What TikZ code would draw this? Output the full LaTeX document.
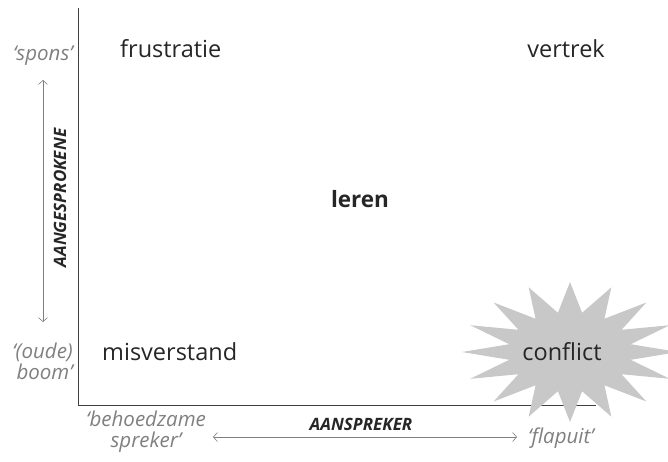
\documentclass[tikz,border=0pt]{standalone}
\usepackage{fontspec}
\setmainfont{Open Sans}
\usetikzlibrary{arrows.meta}
\definecolor{labgray}{HTML}{7F7F7F}
\definecolor{stargray}{HTML}{C8C8C8}
\definecolor{axisgray}{HTML}{404040}
\tikzset{
  quad/.style={inner sep=0pt, font=\fontsize{23.5}{26}\selectfont, text=black!85},
  pole/.style={inner sep=0pt, font=\fontsize{20.5}{21}\selectfont\itshape, text=labgray, align=center},
  axlab/.style={inner sep=0pt, font=\fontsize{17}{20}\selectfont\bfseries\itshape, text=black!85},
  dimarrow/.style={draw=labgray, line width=0.6pt, {Straight Barb[length=4pt,width=9pt]}-{Straight Barb[length=4pt,width=9pt]}},
  axis/.style={draw=axisgray, line width=0.8pt}
}
\begin{document}
\begin{tikzpicture}[x=1pt,y=-1pt]
\useasboundingbox (0,0) rectangle (668,461);
% axes
\coordinate (top) at (78,8);
\coordinate (orig) at (78,405);
\coordinate (xend) at (596,405);
\draw[axis] (top) -- (orig) -- (xend);
% starburst
\fill[stargray] plot[samples=33, domain=0:32, variable=\k]
  ({570 + (mod(\k,2)==0 ? 108 : 62)*cos(90+\k*11.25)}, {352 - (mod(\k,2)==0 ? 70 : 40)*sin(90+\k*11.25)}) -- cycle;
% quadrant labels
\node[quad, anchor=base west] (frus) at (120,57) {frustratie};
\node[quad, anchor=base east] (vert) at (605,57) {vertrek};
\node[quad, anchor=base, font=\fontsize{22.5}{26}\selectfont\bfseries] (leren) at (360,207) {leren};
\node[quad, anchor=base west] (misv) at (102,360) {misverstand};
\node[quad, anchor=base] (confl) at (562,360) {conflict};
% vertical poles
\node[pole, anchor=base east] (spons) at (73,60) {‘spons’};
\node[pole, anchor=base east, align=right] (boom) at (73,379) {‘(oude)\\boom’};
\node[pole, anchor=base] (behoed) at (146,447) {‘behoedzame\\spreker’};
\node[pole, anchor=base west] (flap) at (528,443) {‘flapuit’};
% dimension arrows
\coordinate (va) at (43,80);
\coordinate (vb) at (43,322);
\draw[dimarrow] (va) -- (vb);
\node[axlab, rotate=90] (aang) at (60,198) {AANGESPROKENE};
\coordinate (ha) at (213,437);
\coordinate (hb) at (517,437);
\draw[dimarrow] (ha) -- (hb);
\node[axlab] (aansp) at (361,424) {AANSPREKER};
\end{tikzpicture}
\end{document}
